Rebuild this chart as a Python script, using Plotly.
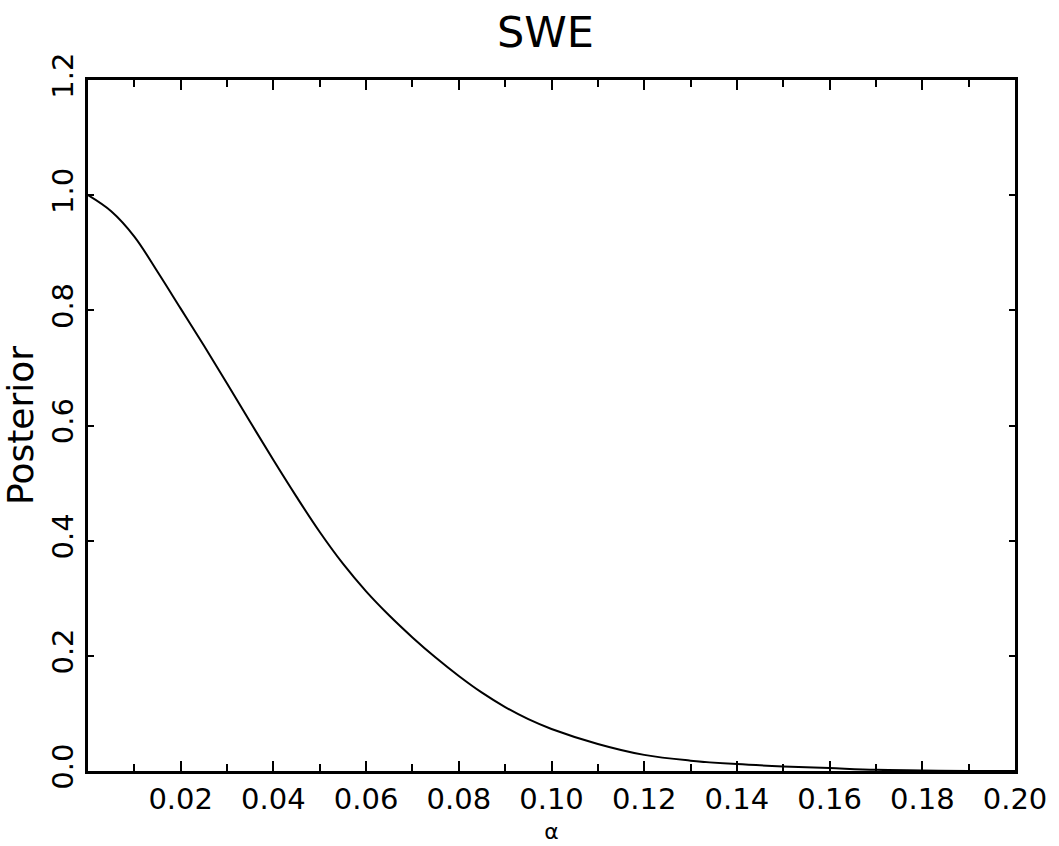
import plotly.graph_objects as go

alpha = [0.0, 0.005, 0.01, 0.015, 0.02, 0.025, 0.03, 0.035, 0.04, 0.045, 0.05,
         0.055, 0.06, 0.065, 0.07, 0.075, 0.08, 0.085, 0.09, 0.095, 0.10,
         0.11, 0.12, 0.13, 0.14, 0.15, 0.16, 0.17, 0.18, 0.19, 0.20]
posterior = [1.0, 0.972, 0.928, 0.867, 0.803, 0.739, 0.673, 0.606, 0.540, 0.476, 0.415,
             0.360, 0.312, 0.270, 0.232, 0.197, 0.165, 0.136, 0.111, 0.090, 0.073,
             0.047, 0.028, 0.018, 0.012, 0.008, 0.005, 0.002, 0.001, 0.0, 0.0]

x_tickvals = [0.02, 0.04, 0.06, 0.08, 0.10, 0.12, 0.14, 0.16, 0.18, 0.20]
x_ticktext = ["0.02", "0.04", "0.06", "0.08", "0.10", "0.12", "0.14", "0.16", "0.18", "0.20"]
y_tickvals = [0.0, 0.2, 0.4, 0.6, 0.8, 1.0, 1.2]
y_ticktext = ["0.0", "0.2", "0.4", "0.6", "0.8", "1.0", "1.2"]

FONT = "DejaVu Sans"

fig = go.Figure()
fig.add_trace(go.Scatter(x=alpha, y=posterior, mode="lines",
                         line=dict(color="black", width=2, shape="spline", smoothing=1.0),
                         showlegend=False))

fig.update_layout(
    width=1059, height=846,
    margin=dict(l=88, r=44, t=80, b=75),
    paper_bgcolor="white", plot_bgcolor="white",
    font=dict(family=FONT, color="black"),
    title=dict(text="SWE", x=0.515, xanchor="center", y=0.962, yanchor="middle",
               font=dict(family=FONT, size=43, color="black")),
)

fig.update_xaxes(
    range=[0, 0.2], tickvals=x_tickvals, ticktext=x_ticktext,
    ticks="inside", ticklen=10, tickwidth=2, tickcolor="black",
    minor=dict(dtick=0.01, tick0=0, ticks="inside", ticklen=7, tickwidth=2, tickcolor="black"),
    showline=True, linewidth=3, linecolor="black", mirror="ticks",
    showgrid=False, zeroline=False, automargin=False,
    tickfont=dict(family=FONT, size=29, color="black"),
    title=dict(text="α", font=dict(family=FONT, size=22, color="black"), standoff=9),
)

fig.update_yaxes(
    range=[0, 1.2], tickvals=y_tickvals, ticktext=y_ticktext,
    ticks="inside", ticklen=6, tickwidth=2, tickcolor="black",
    showline=True, linewidth=3, linecolor="black", mirror="ticks",
    showgrid=False, zeroline=False, tickangle=-90, automargin=False,
    tickfont=dict(family=FONT, size=29, color="black"),
    title=dict(text="Posterior", font=dict(family=FONT, size=36, color="black"), standoff=2),
)

fig.write_html("out.html")
